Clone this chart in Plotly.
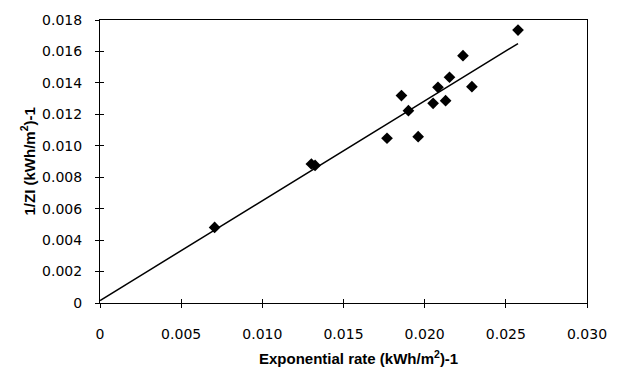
import numpy as np
import plotly.graph_objects as go

# Data
exp_rate = [0.00706, 0.01302, 0.01325, 0.01768, 0.01857, 0.0190, 0.01960, 0.02052,
            0.02082, 0.02129, 0.02153, 0.02236, 0.02291, 0.02575]
inv_zi = [0.00481, 0.00884, 0.00875, 0.01048, 0.01319, 0.01223, 0.01058, 0.01270,
          0.01372, 0.01287, 0.01436, 0.01573, 0.01376, 0.01736]

x_tickvals = [0, 0.005, 0.010, 0.015, 0.020, 0.025, 0.030]
x_ticktext = ["0", "0.005", "0.010", "0.015", "0.020", "0.025", "0.030"]
y_tickvals = [0, 0.002, 0.004, 0.006, 0.008, 0.010, 0.012, 0.014, 0.016, 0.018]
y_ticktext = ["0", "0.002", "0.004", "0.006", "0.008", "0.010", "0.012", "0.014", "0.016", "0.018"]

slope, intercept = np.polyfit(exp_rate, inv_zi, 1)
line_x = [0, max(exp_rate)]
line_y = [intercept + slope * v for v in line_x]

fig = go.Figure()
fig.add_trace(go.Scatter(x=line_x, y=line_y, mode="lines",
                         line=dict(color="black", width=1.5), showlegend=False))
fig.add_trace(go.Scatter(x=exp_rate, y=inv_zi, mode="markers",
                         marker=dict(symbol="diamond", color="black", size=9),
                         showlegend=False))
# invisible trace to activate overlay axes for inside ticks
fig.add_trace(go.Scatter(x=[0], y=[0], xaxis="x2", yaxis="y2", mode="markers",
                         marker=dict(opacity=0), showlegend=False, hoverinfo="skip"))

tickfont = dict(family="DejaVu Sans", size=14, color="black")
fig.update_layout(
    width=619, height=369,
    margin=dict(l=100, r=26, t=19, b=66),
    paper_bgcolor="white", plot_bgcolor="white",
    xaxis=dict(range=[0, 0.030], tickvals=x_tickvals, ticktext=x_ticktext,
               showgrid=False, zeroline=False, showline=True, linecolor="black",
               linewidth=1, mirror=True, ticks="outside", ticklen=4,
               tickcolor="black", tickfont=tickfont, ticklabelstandoff=14),
    yaxis=dict(range=[0, 0.018], tickvals=y_tickvals, ticktext=y_ticktext,
               showgrid=False, zeroline=False, showline=True, linecolor="black",
               linewidth=1, mirror=True, ticks="outside", ticklen=4,
               tickcolor="black", tickfont=tickfont, ticklabelstandoff=10),
    xaxis2=dict(range=[0, 0.030], tickvals=x_tickvals, overlaying="x",
                showticklabels=False, showgrid=False, zeroline=False,
                ticks="inside", ticklen=4, tickcolor="black", anchor="y"),
    yaxis2=dict(range=[0, 0.018], tickvals=y_tickvals, overlaying="y",
                showticklabels=False, showgrid=False, zeroline=False,
                ticks="inside", ticklen=4, tickcolor="black", anchor="x"),
    annotations=[
        dict(text="<b>Exponential rate (kWh/m<sup>2</sup>)-1</b>", xref="paper", yref="paper",
             x=0.531, y=0, yshift=-54, xanchor="center", yanchor="middle",
             showarrow=False, font=dict(family="Liberation Sans", size=15, color="black")),
        dict(text="<b>1/ZI (kWh/m<sup>2</sup>)-1</b>", xref="paper", yref="paper",
             x=0, y=0.5, xshift=-72, xanchor="center", yanchor="middle", textangle=-90,
             showarrow=False, font=dict(family="Liberation Sans", size=15, color="black")),
    ],
)
fig.write_html("out.html", config={"displayModeBar": False},
               post_script="document.body.style.margin='0';document.body.style.overflow='hidden';")
